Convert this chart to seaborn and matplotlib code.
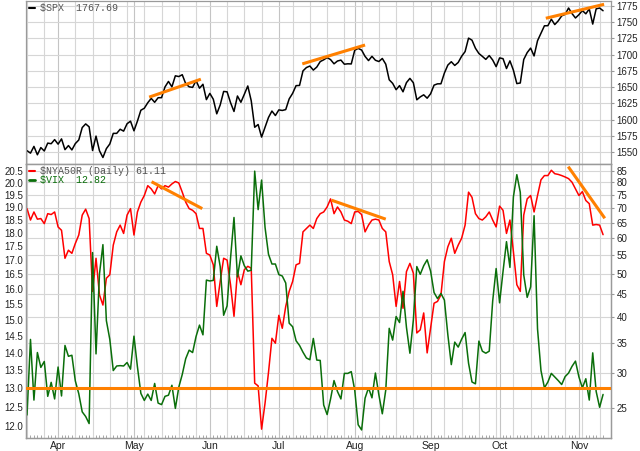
import numpy as np
import pandas as pd
import matplotlib
matplotlib.use("Agg")
import matplotlib.pyplot as plt
import matplotlib.ticker as mticker
from matplotlib.lines import Line2D
import seaborn as sns

# trading days, 18 Mar - 12 Nov 2013 (NYSE holidays removed)
holidays = ["2013-03-29", "2013-05-27", "2013-07-04", "2013-09-02"]
dates = pd.bdate_range("2013-03-18", "2013-11-12")
dates = dates[~dates.isin(pd.to_datetime(holidays))]

spx = [1552.10, 1548.34, 1558.71, 1545.80, 1556.89, 1551.69, 1563.77, 1562.85, 1569.19,
       1562.17, 1570.25, 1553.69, 1559.98, 1553.28, 1563.07, 1568.61, 1587.73, 1593.37, 1588.85,
       1552.36, 1574.57, 1552.01, 1541.61, 1555.25, 1562.50, 1578.78, 1578.79, 1585.16, 1582.24,
       1593.61, 1597.57,
       1582.70, 1597.59, 1614.42, 1617.50, 1625.96, 1632.69, 1626.67, 1633.70, 1633.77, 1650.34,
       1658.78, 1650.47, 1667.47, 1666.29, 1669.16, 1655.35, 1650.51, 1649.60, 1660.06, 1648.36,
       1654.41, 1630.74,
       1640.42, 1631.38, 1608.90, 1622.56, 1643.38, 1642.81, 1626.13, 1612.52, 1636.36, 1626.73,
       1639.04, 1651.81, 1628.93, 1588.19, 1592.43, 1573.09, 1588.03, 1603.26, 1613.20, 1606.28,
       1614.96, 1614.08, 1615.41, 1631.89, 1640.46, 1652.32, 1652.62, 1675.02, 1680.19, 1682.50,
       1676.26, 1680.91, 1689.37, 1692.09, 1695.53, 1692.39, 1685.94, 1690.25, 1691.65, 1685.33,
       1685.96, 1685.73,
       1706.87, 1709.67, 1707.14, 1697.37, 1690.91, 1697.48, 1691.42, 1689.47, 1694.16, 1685.39,
       1661.32, 1655.83, 1646.06, 1652.35, 1642.80, 1656.96, 1663.50, 1656.78, 1630.48, 1634.96,
       1638.17, 1632.97,
       1639.77, 1653.08, 1655.08, 1655.17, 1671.71, 1683.99, 1689.13, 1683.42, 1687.99, 1697.60,
       1704.76, 1725.52, 1722.34, 1709.91, 1701.84, 1697.42, 1692.77, 1698.67, 1691.75, 1681.55,
       1695.00, 1693.87, 1678.66, 1690.50, 1676.12, 1655.45, 1656.40, 1692.56, 1703.20, 1710.14,
       1698.06, 1721.54, 1733.15, 1744.50, 1744.66, 1754.67, 1746.38, 1752.07, 1759.77, 1762.11,
       1771.95, 1763.31, 1756.54,
       1761.64, 1767.93, 1762.97, 1770.49, 1747.15, 1770.61, 1771.89, 1767.69]

vix = [12.28, 14.39, 12.67, 14.00, 13.57, 13.74, 12.77, 13.15, 12.70,
       13.58, 12.78, 14.21, 13.89, 13.92, 13.19, 12.84, 12.36, 12.24, 12.06, 17.27, 13.96,
       16.51, 17.56, 14.97, 14.39, 13.48, 13.61, 13.62, 13.61, 13.71, 13.52,
       14.49, 13.59, 12.85, 12.66, 12.83, 12.66, 13.12, 12.59, 12.55, 12.77, 12.80, 13.07,
       12.45, 13.02, 13.37, 13.82, 14.07, 14.00, 14.48, 14.83, 14.53, 16.30,
       16.27, 16.29, 17.50, 16.77, 15.14, 15.44, 17.07, 18.59, 16.41, 17.15, 16.80, 16.61,
       16.64, 20.49, 18.90, 20.11, 18.21, 17.21, 16.86, 16.86,
       16.49, 16.44, 16.20, 14.89, 14.78, 14.35, 14.21, 14.01, 13.84, 13.79, 14.42, 13.78,
       13.77, 12.54, 12.29, 12.70, 13.20, 12.90, 12.70, 13.40, 13.40, 13.45,
       12.94, 12.03, 11.90, 12.72, 13.00, 12.73, 13.41, 12.81, 12.31, 12.94, 14.73, 14.37,
       15.10, 14.91, 15.92, 14.76, 13.98, 14.99, 16.77, 16.50, 16.80, 17.01,
       16.61, 15.88, 15.68, 15.85, 15.63, 14.53, 13.65, 14.31, 14.16, 14.40, 14.60, 13.69,
       13.16, 13.11, 14.34, 14.04, 13.98, 14.04, 15.60, 16.70,
       15.54, 16.60, 17.67, 16.74, 19.41, 20.34, 19.60, 16.48, 15.72, 16.07, 18.66, 14.71,
       13.48, 13.00, 13.16, 13.40, 13.30, 13.20, 13.09, 13.31, 13.41, 13.60, 13.75,
       13.30, 13.00, 13.25, 12.67, 13.99, 12.90, 12.48, 12.82]

nya50r = [69.9, 65.9, 68.7, 66.2, 66.4, 64.7, 68.1, 67.8, 68.7,
          63.6, 62.5, 54.1, 56.4, 55.5, 58.4, 61.0, 67.6, 69.7, 66.4, 45.6, 54.1,
          44.8, 42.5, 48.8, 49.7, 57.9, 62.0, 64.2, 61.5, 67.6, 69.9,
          61.0, 68.7, 72.3, 74.8, 78.7, 77.4, 75.4, 78.7, 77.4, 78.7, 78.1, 79.4,
          80.4, 79.8, 76.1, 72.3, 69.9, 69.3, 68.1, 63.1, 63.1, 55.5,
          55.0, 52.3, 42.2, 48.0, 54.1, 53.6, 47.2, 40.1, 50.5, 47.2, 51.0, 51.9,
          51.4, 28.4, 28.0, 22.4, 25.6, 30.0, 35.8, 34.9,
          40.3, 37.7, 42.2, 45.6, 48.0, 52.3, 52.7, 62.0, 63.1, 64.2, 63.1, 66.4,
          68.1, 68.7, 70.5, 73.5, 68.1, 70.5, 68.7, 65.9, 65.5, 64.7,
          68.7, 68.9, 67.8, 62.0, 64.2, 65.9, 66.2, 65.9, 63.1, 62.0, 53.2, 49.7,
          42.2, 48.0, 41.8, 50.5, 52.7, 50.1, 36.8, 37.4, 40.8, 33.2,
          37.7, 42.9, 43.3, 44.8, 53.2, 57.4, 60.0, 55.5, 57.9, 60.0, 64.2, 76.1,
          74.1, 68.1, 66.4, 65.9, 67.0, 68.7, 65.9, 63.6,
          70.8, 69.3, 61.5, 65.9, 56.0, 47.2, 45.6, 67.6, 73.5, 74.8, 68.7, 74.8,
          81.1, 82.9, 82.9, 85.2, 83.7, 83.4, 82.9, 82.3, 81.6, 80.1, 77.4,
          74.8, 76.3, 72.9, 71.7, 64.2, 64.4, 64.2, 61.11]

# hand drawn trend lines (trading-day index, value)
spx_trend_x = [[35.4, 50.4], [79.8, 98.0], [150.4, 167.3]]
spx_trend_y = [[1634.6, 1662.2], [1685.8, 1714.9], [1756.1, 1777.6]]
nya_trend_x = [[36.1, 50.8], [88.3, 104.0], [156.9, 167.5]]
nya_trend_y = [[80.3, 69.9], [73.0, 66.2], [86.8, 66.5]]
vix_level = 13.0

df = pd.DataFrame({"i": np.arange(len(dates)), "spx": spx, "vix": vix, "nya50r": nya50r})

month_start = [k for k in range(1, len(dates)) if dates[k].month != dates[k - 1].month]
week_start = [0] + [k for k in range(1, len(dates)) if dates[k].weekday() < dates[k - 1].weekday()]

sns.set_style("white")
plt.rcParams["font.family"] = ["Liberation Sans", "DejaVu Sans"]

ORANGE = "#ff8000"
GREEN = "#0a6e0a"
RED = "#ff0000"
GRID = "#d6d6d6"
EDGE = "#9a9a9a"
TXT = "#222222"

fig = plt.figure(figsize=(6.4, 4.51), dpi=100)
ax_top = fig.add_axes([26 / 640, 1 - 164 / 451, 585 / 640, 163 / 451])
ax_bot = fig.add_axes([26 / 640, 13 / 451, 585 / 640, 274 / 451])
ax_v = ax_bot.twinx()   # VIX on the twin, left log axis

xlim = (-0.3, 169.3)
grid_pos = sorted(set(week_start) | set(month_start))


def style_x(ax, labels):
    ax.set_xlim(*xlim)
    ax.set_xticks(grid_pos)
    ax.set_xticks(range(len(dates)), minor=True)
    if labels:
        ax.set_xticklabels([dates[k].strftime("%b") if k in month_start else "" for k in grid_pos])
    else:
        ax.set_xticklabels([])
    ax.tick_params(axis="x", which="major", length=0, pad=2, labelsize=7.5, labelcolor=TXT)
    ax.tick_params(axis="x", which="minor", length=2.5, direction="in", color="#999999", width=0.6,
                   bottom=labels, top=False)
    ax.set_xlabel("")
    for k, gl in zip(grid_pos, ax.get_xgridlines()):
        gl.set_color("#c4c4c4" if k in month_start else GRID)
    for s in ax.spines.values():
        s.set_color(EDGE)
        s.set_linewidth(0.9)


# ---- top panel: SPX
ax_top.grid(True, color=GRID, lw=0.8)
sns.lineplot(data=df, x="i", y="spx", ax=ax_top, color="black", lw=1.1, legend=False)
for tx, ty in zip(spx_trend_x, spx_trend_y):
    ax_top.plot(tx, ty, color=ORANGE, lw=2.2, solid_capstyle="butt", zorder=5)
ax_top.set_ylim(1531.6, 1782.7)
ax_top.yaxis.tick_right()
ax_top.set_yticks(np.arange(1550, 1776, 25))
ax_top.set_ylabel("")
ax_top.tick_params(axis="y", length=2, pad=2, labelsize=7, labelcolor=TXT, color="#999999")
style_x(ax_top, False)
ax_top.legend([Line2D([], [], color="black", lw=1.5)], ["\\$SPX  1767.69"],
              loc="upper left", bbox_to_anchor=(0.0, 1.0), frameon=False,
              handlelength=0.65, handletextpad=0.45, borderaxespad=0.1, borderpad=0.15,
              prop={"family": "Liberation Mono", "size": 7.2}, labelcolor=["#555555"])

# ---- bottom panel: NYA50R (host, right log axis, carries the grid)
ax_bot.grid(True, color=GRID, lw=0.8)
sns.lineplot(data=df, x="i", y="nya50r", ax=ax_bot, color=RED, lw=1.1, legend=False)
for tx, ty in zip(nya_trend_x, nya_trend_y):
    ax_bot.plot(tx, ty, color=ORANGE, lw=2.2, solid_capstyle="butt", zorder=5)
ax_bot.set_yscale("log")
ax_bot.set_ylim(21.4, 88.0)
ax_bot.yaxis.set_major_locator(mticker.FixedLocator(np.arange(25, 86, 5)))
ax_bot.yaxis.set_major_formatter(mticker.FormatStrFormatter("%d"))
ax_bot.yaxis.set_minor_locator(mticker.NullLocator())
ax_bot.set_ylabel("")
style_x(ax_bot, True)

sns.lineplot(data=df, x="i", y="vix", ax=ax_v, color=GREEN, lw=1.1, legend=False)
ax_v.axhline(vix_level, color=ORANGE, lw=2.2, zorder=4)
ax_v.set_yscale("log")
ax_v.set_ylim(11.7, 20.8)
ax_v.yaxis.set_major_locator(mticker.FixedLocator(np.arange(12.0, 20.51, 0.5)))
ax_v.yaxis.set_major_formatter(mticker.FormatStrFormatter("%.1f"))
ax_v.yaxis.set_minor_locator(mticker.NullLocator())
ax_v.set_ylabel("")
ax_v.set_xlim(*xlim)
for s in ax_v.spines.values():
    s.set_color(EDGE)
    s.set_linewidth(0.9)

# swap sides: NYA50R labels right, VIX labels left
ax_bot.yaxis.tick_right()
ax_bot.tick_params(axis="y", length=2, pad=2, labelsize=7, labelcolor=TXT, color="#999999")
ax_v.yaxis.tick_left()
ax_v.tick_params(axis="y", length=0, pad=2, labelsize=7, labelcolor=TXT)

ax_v.legend([Line2D([], [], color=RED, lw=1.5), Line2D([], [], color=GREEN, lw=2.0)],
            ["\\$NYA50R (Daily) 61.11", "\\$VIX  12.82"],
            loc="upper left", bbox_to_anchor=(0.0, 1.0), frameon=False,
            handlelength=0.65, handletextpad=0.45, borderaxespad=0.1, borderpad=0.15,
            labelspacing=-0.15, prop={"family": "Liberation Mono", "size": 7.2},
            labelcolor=["#555555", GREEN])

fig.savefig("out.png", dpi=100)
